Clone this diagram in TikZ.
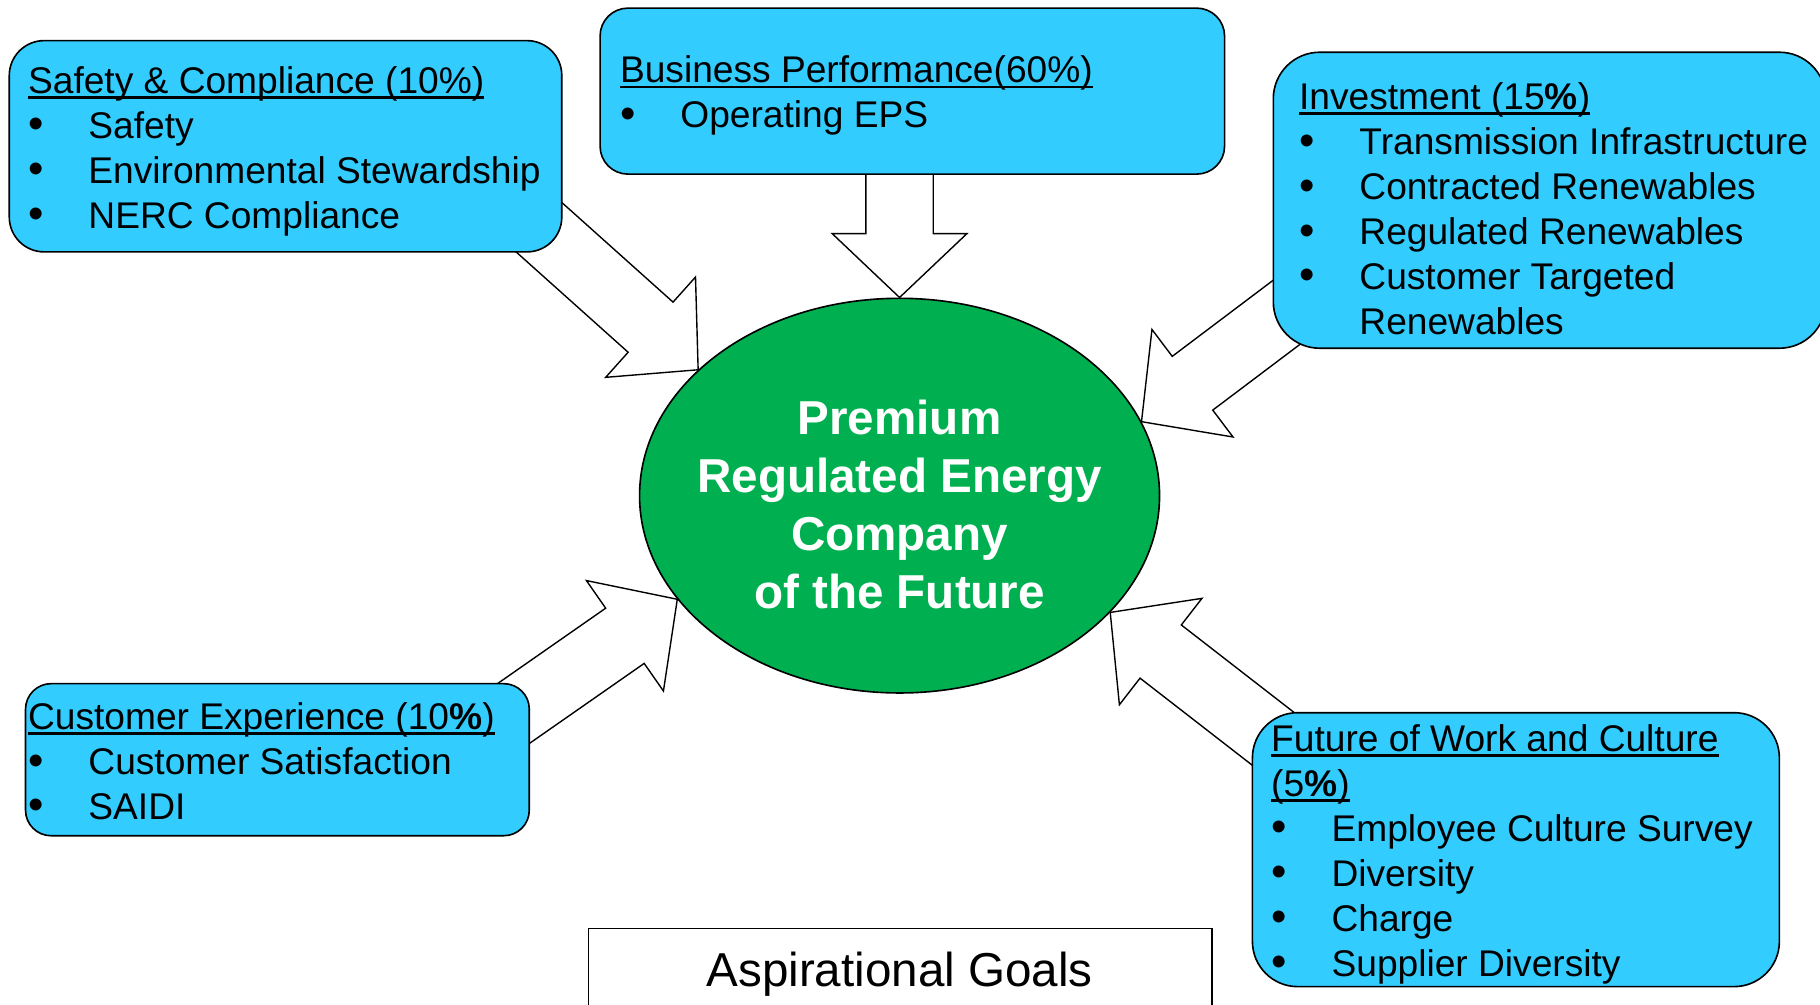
\documentclass[tikz,border=0pt]{standalone}
\usepackage{fontspec}
\usepackage{graphicx}
\setmainfont{Liberation Sans}
\usetikzlibrary{calc,shapes.geometric,backgrounds}
\definecolor{skyb}{HTML}{33CCFF}
\definecolor{goalgreen}{HTML}{00B050}
\newsavebox\ulbox
\newcommand\myul[1]{\sbox\ulbox{#1}\rlap{\rule[-4.6pt]{\wd\ulbox}{2.2pt}}\usebox\ulbox}
\newcommand\bul{\makebox[52pt][l]{\raisebox{-0.6pt}{\scalebox{1.18}{•}}}}
\newcommand\blockarrow[2]{%
  \coordinate (ba-h) at ($(#2)!55pt!(#1)$);
  \draw[barrow] ($(#1)!29pt!90:(#2)$) -- ($(ba-h)!29pt!90:(#2)$) -- ($(ba-h)!58pt!90:(#2)$) -- (#2)
    -- ($(ba-h)!58pt!-90:(#2)$) -- ($(ba-h)!29pt!-90:(#2)$) -- ($(#1)!29pt!-90:(#2)$) -- cycle;}
\begin{document}
\begin{tikzpicture}[x=1pt,y=-1pt,
  box/.style={draw=black,line width=1.4pt,fill=skyb,inner sep=0pt,rectangle},
  txt/.style={anchor=north west,inner sep=0pt,align=left,font=\fontsize{32}{38.7}\selectfont},
  barrow/.style={draw=black,fill=white,line width=1.2pt,line join=miter}]
\useasboundingbox (0,0) rectangle (1568,865);
\clip (0,0) rectangle (1568,865);
% centre
\node[ellipse,draw=black,line width=1.4pt,fill=goalgreen,minimum width=448pt,minimum height=340pt,inner sep=0pt] (ell) at (775,427) {};
\node[anchor=center,inner sep=0pt,align=center,text=white,font=\fontsize{41}{50}\selectfont\bfseries] (core) at (775,434.5) {Premium\\Regulated Energy\\Company\\of the Future};
% boxes
\node[box,rounded corners=30pt,minimum width=476pt,minimum height=182pt] (sc) at (246,126) {};
\node[box,rounded corners=24pt,minimum width=538pt,minimum height=143pt] (bp) at (786,78.5) {};
\node[box,rounded corners=40pt,minimum width=476pt,minimum height=255pt] (inv) at (1335,172.5) {};
\node[box,rounded corners=22pt,minimum width=434pt,minimum height=131pt] (ce) at (239,654.5) {};
\node[box,rounded corners=39pt,minimum width=454pt,minimum height=236pt] (fw) at (1306,732) {};
\node[draw=black,line width=1.4pt,fill=white,minimum width=537pt,minimum height=100pt,inner sep=0pt] (agbox) at (775.5,850) {};
\node[anchor=base,inner sep=0pt,font=\fontsize{41}{50}\selectfont] (ag) at (775,849.7) {Aspirational Goals};
% texts
\node[txt] (sct) at (24,57) {\myul{Safety \& Compliance (10\%)}\\
\bul Safety\\
\bul Environmental Stewardship\\
\bul NERC Compliance};
\node[txt] (bpt) at (534,48) {\myul{Business Performance(60\%)}\\
\bul Operating EPS};
\node[txt] (invt) at (1119,71) {\myul{Investment (15\textbf{\%})}\\
\bul Transmission Infrastructure\\
\bul Contracted Renewables\\
\bul Regulated Renewables\\
\bul Customer Targeted\\
\hspace*{52pt}Renewables};
\node[txt] (cet) at (24,605) {\myul{Customer Experience (10\textbf{\%})}\\
\bul Customer Satisfaction\\
\bul SAIDI};
\node[txt] (fwt) at (1095,624) {\myul{Future of Work and Culture}\\
\myul{(5\textbf{\%})}\\
\bul Employee Culture Survey\\
\bul Diversity\\
\bul Charge\\
\bul Supplier Diversity};
% arrow tails
\coordinate (bpT) at (775,100);
\coordinate (scT) at (430,165);
\coordinate (invT) at (1143,243);
\coordinate (ceT) at (409,638);
\coordinate (fwT) at (1131,663);
\begin{pgfonlayer}{background}
\blockarrow{bpT}{ell.90}
\blockarrow{scT}{ell.148}
\blockarrow{invT}{ell.17}
\blockarrow{ceT}{ell.205}
\blockarrow{fwT}{ell.331}
\end{pgfonlayer}
\end{tikzpicture}
\end{document}
